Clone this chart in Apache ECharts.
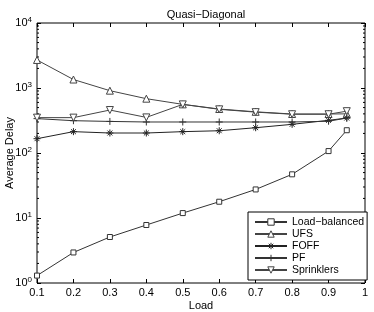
<!DOCTYPE html>
<html>
<head>
<meta charset="utf-8">
<script src="https://cdn.jsdelivr.net/npm/echarts@6/dist/echarts.min.js"></script>
<style>html,body{margin:0;padding:0;background:#fff}#c{width:374px;height:312px}</style>
</head>
<body>
<div id="c"></div>
<script>
var loads = [0.1, 0.2, 0.3, 0.4, 0.5, 0.6, 0.7, 0.8, 0.9, 0.95];
var loadBalanced = [1.3, 2.95, 5.1, 7.8, 11.9, 17.8, 27.5, 47, 107, 224];
var ufs = [2700, 1350, 910, 685, 560, 475, 430, 398, 398, 400];
var foff = [166, 213, 203, 203, 213, 220, 245, 276, 318, 345];
var pf = [338, 314, 306, 300, 300, 300, 300, 300, 308, 345];
var sprinklers = [350, 350, 458, 353, 560, 470, 425, 395, 395, 440];
var seriesNames = ['Load\u2212balanced', 'UFS', 'FOFF', 'PF', 'Sprinklers'];
var yDecades = [1, 10, 100, 1000, 10000];

var FONT = 'Liberation Sans, Arial, Helvetica, sans-serif';
function pairs(vals) { return loads.map(function (x, i) { return [x, vals[i]]; }); }

var minorVals = [];
for (var d = 0; d < yDecades.length - 1; d++) {
  for (var m = 2; m <= 9; m++) minorVals.push([0.1, m * yDecades[d]]);
}

var STAR = 'path://M0,5 L10,5 M5,0 L5,10 M1.5,1.5 L8.5,8.5 M8.5,1.5 L1.5,8.5';
var PLUS = 'path://M0,5 L10,5 M5,0 L5,10';

function lineSeries(name, vals, symbol, size, color, rotate) {
  var isPath = symbol.indexOf('path://') === 0;
  return {
    name: name, type: 'line', data: pairs(vals), symbol: symbol, symbolSize: size,
    symbolRotate: rotate || 0, showAllSymbol: true,
    lineStyle: { color: color, width: 1, type: 'solid' },
    itemStyle: { color: isPath ? 'rgba(255,255,255,0)' : '#fff', borderColor: color, borderWidth: 1 },
    emphasis: { disabled: true }, animation: false, z: 3
  };
}

var chart = echarts.init(document.getElementById('c'));
chart.setOption({
  animation: false,
  title: {
    text: 'Quasi\u2212Diagonal', left: 201, top: 4, textAlign: 'center',
    textStyle: { fontFamily: FONT, fontSize: 11, fontWeight: 'normal', color: '#000' }
  },
  grid: { left: 37, right: 9, top: 23, bottom: 29, show: true, borderColor: '#000', borderWidth: 1,
          containLabel: false, outerBoundsMode: 'none' },
  legend: {
    data: seriesNames, orient: 'vertical', left: 248, top: 212,
    itemWidth: 32, itemHeight: 8, itemGap: 0, padding: [4, 3, 4, 6],
    backgroundColor: '#fff', borderColor: '#000', borderWidth: 1, borderRadius: 0,
    itemStyle: { borderWidth: 1 },
    textStyle: { fontFamily: FONT, fontSize: 10.5, lineHeight: 12, color: '#000', padding: [0, 0, 0, 0] },
    selectedMode: false
  },
  xAxis: [{
    type: 'value', min: 0.1, max: 1, interval: 0.1,
    axisLine: { show: false },
    axisTick: { inside: true, length: 4, lineStyle: { color: '#000' } },
    splitLine: { show: false },
    axisLabel: {
      fontFamily: FONT, fontSize: 11, color: '#000', margin: 4,
      formatter: function (v) { return v >= 0.999 ? '1' : v.toFixed(1); }
    },
    name: 'Load', nameLocation: 'middle', nameGap: 17, nameMoveOverlap: false,
    nameTextStyle: { fontFamily: FONT, fontSize: 11, color: '#000' }
  }, {
    type: 'value', position: 'top', min: 0.1, max: 1, interval: 0.1,
    axisLine: { show: false }, axisLabel: { show: false }, splitLine: { show: false },
    axisTick: { inside: true, length: 4, lineStyle: { color: '#000' } }
  }],
  yAxis: [{
    type: 'log', logBase: 10, min: 1, max: 10000,
    axisLine: { show: false },
    axisTick: { inside: true, length: 4, lineStyle: { color: '#000' } },
    splitLine: { show: false }, minorTick: { show: false },
    axisLabel: {
      fontFamily: FONT, color: '#000', margin: 5,
      formatter: function (v) { return '{b|10}{s|' + Math.round(Math.log10(v)) + '}'; },
      rich: {
        b: { fontFamily: FONT, fontSize: 11, color: '#000' },
        s: { fontFamily: FONT, fontSize: 8, color: '#000', verticalAlign: 'top', padding: [0, 0, 7, 0] }
      }
    },
    name: 'Average Delay', nameLocation: 'middle', nameGap: 22, nameRotate: 90, nameMoveOverlap: false,
    nameTextStyle: { fontFamily: FONT, fontSize: 11, color: '#000' }
  }, {
    type: 'log', logBase: 10, min: 1, max: 10000, position: 'right',
    axisLine: { show: false }, axisLabel: { show: false }, splitLine: { show: false },
    axisTick: { inside: true, length: 4, lineStyle: { color: '#000' } }
  }],
  series: [
    lineSeries(seriesNames[0], loadBalanced, 'rect', 5, '#333'),
    lineSeries(seriesNames[1], ufs, 'triangle', 7, '#444'),
    lineSeries(seriesNames[2], foff, STAR, 7, '#222'),
    lineSeries(seriesNames[3], pf, PLUS, 7, '#333'),
    lineSeries(seriesNames[4], sprinklers, 'triangle', 7, '#444', 180),
    {
      type: 'custom', name: 'minorTicks', data: minorVals, silent: true, z: 2,
      renderItem: function (params, api) {
        var p = api.coord([api.value(0), api.value(1)]);
        var cs = params.coordSys;
        var right = cs.x + cs.width;
        return {
          type: 'group', children: [
            { type: 'line', shape: { x1: cs.x, y1: p[1], x2: cs.x + 2, y2: p[1] }, style: { stroke: '#000', lineWidth: 1 } },
            { type: 'line', shape: { x1: right - 2, y1: p[1], x2: right, y2: p[1] }, style: { stroke: '#000', lineWidth: 1 } }
          ]
        };
      }
    }
  ]
});
</script>
</body>
</html>
